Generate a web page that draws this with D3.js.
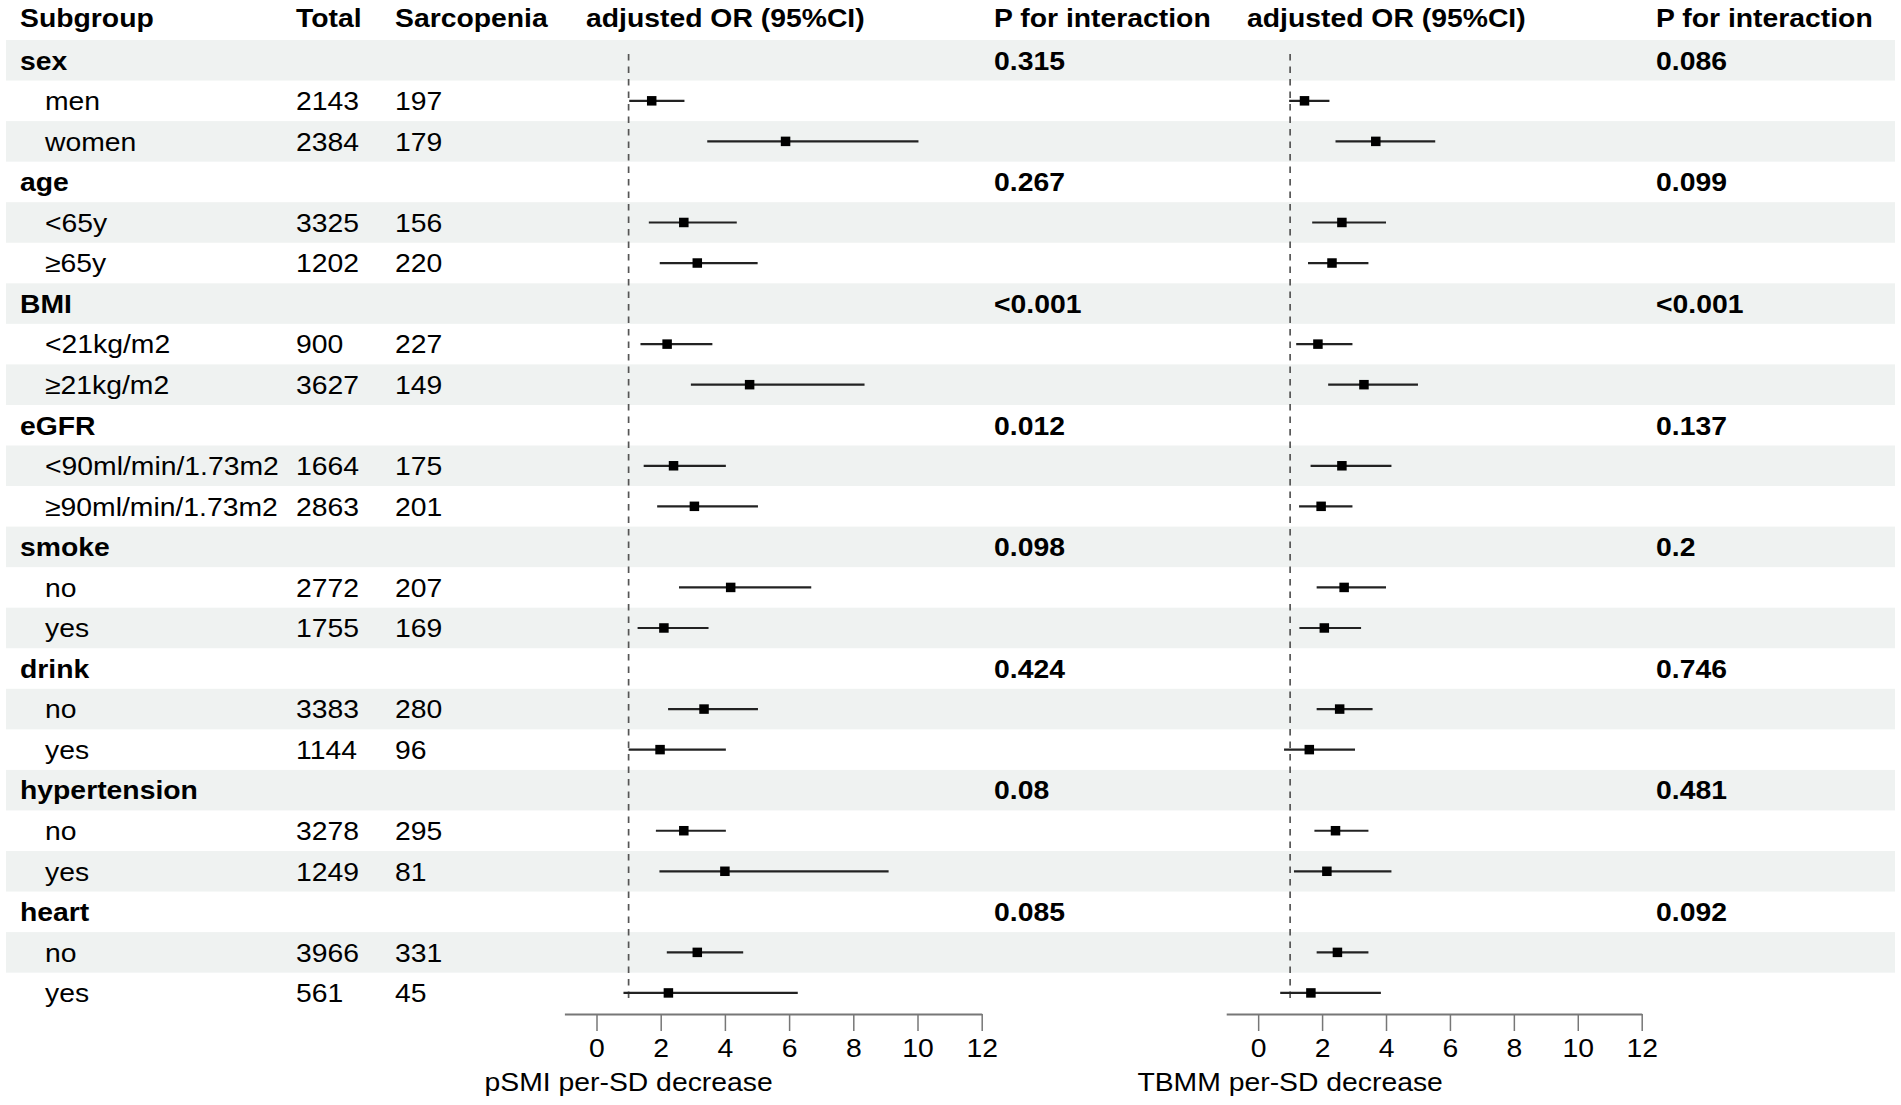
<!DOCTYPE html>
<html>
<head>
<meta charset="utf-8">
<script src="https://cdn.jsdelivr.net/npm/d3@7"></script>
<style>
  html, body { margin: 0; padding: 0; background: #fff; }
  svg { display: block; }
  text { font-family: "Liberation Sans", Arial, Helvetica, sans-serif; fill: #000; }
</style>
</head>
<body>
<svg id="chart" width="1901" height="1105"></svg>
<script>
// ---------------- DATA ----------------
const headers = ["Subgroup", "Total", "Sarcopenia", "adjusted OR (95%CI)", "P for interaction", "adjusted OR (95%CI)", "P for interaction"];

const labels = ["sex", "men", "women", "age", "<65y", "≥65y", "BMI", "<21kg/m2", "≥21kg/m2",
  "eGFR", "<90ml/min/1.73m2", "≥90ml/min/1.73m2", "smoke", "no", "yes", "drink", "no", "yes",
  "hypertension", "no", "yes", "heart", "no", "yes"];
const isGroup = [1,0,0,1,0,0,1,0,0,1,0,0,1,0,0,1,0,0,1,0,0,1,0,0];

const totals =      [null,2143,2384,null,3325,1202,null,900,3627,null,1664,2863,null,2772,1755,null,3383,1144,null,3278,1249,null,3966,561];
const sarcopenia =  [null,197,179,null,156,220,null,227,149,null,175,201,null,207,169,null,280,96,null,295,81,null,331,45];

const pInter1 = ["0.315","","","0.267","","","<0.001","","","0.012","","","0.098","","","0.424","","","0.08","","","0.085","",""];
const pInter2 = ["0.086","","","0.099","","","<0.001","","","0.137","","","0.2","","","0.746","","","0.481","","","0.092","",""];

// pSMI per-SD decrease
const est1 = [null,1.72,5.89,null,2.72,3.14,null,2.20,4.77,null,2.40,3.05,null,4.18,2.10,null,3.35,1.98,null,2.72,4.00,null,3.14,2.24];
const low1 = [null,1.02,3.45,null,1.63,1.97,null,1.37,2.94,null,1.47,1.89,null,2.57,1.28,null,2.23,1.00,null,1.85,1.96,null,2.19,0.84];
const up1  = [null,2.74,10.03,null,4.37,5.02,null,3.61,8.35,null,4.03,5.03,null,6.69,3.49,null,5.03,4.03,null,4.03,9.10,null,4.57,6.27];

// TBMM per-SD decrease
const est2 = [null,1.45,3.68,null,2.62,2.31,null,1.87,3.31,null,2.62,1.97,null,2.69,2.07,null,2.55,1.60,null,2.42,2.15,null,2.48,1.65];
const low2 = [null,0.97,2.42,null,1.69,1.56,null,1.19,2.19,null,1.64,1.28,null,1.83,1.29,null,1.83,0.81,null,1.76,1.12,null,1.83,0.69];
const up2  = [null,2.23,5.54,null,4.00,3.45,null,2.95,5.00,null,4.17,2.95,null,4.00,3.22,null,3.58,3.03,null,3.45,4.17,null,3.45,3.84];

const xDomain = [-1, 12];
const xTicks = [0, 2, 4, 6, 8, 10, 12];
const refValue = 1;
const xTitle1 = "pSMI per-SD decrease";
const xTitle2 = "TBMM per-SD decrease";

// ---------------- LAYOUT ----------------
const svg = d3.select("#chart");
const FS = 26, SX = 1.09;
const bodyTop = 40, rowH = 40.55;
const nRows = labels.length;
const y = d3.scaleBand().domain(d3.range(nRows)).range([bodyTop, bodyTop + rowH * nRows]).paddingInner(0).paddingOuter(0);
const yc = i => y(i) + y.bandwidth() / 2;

const col = { sub: 20, subIndent: 45, total: 296, sarc: 395, or1: 586, p1: 994, or2: 1247, p2: 1656 };
const x1 = d3.scaleLinear().domain(xDomain).range([564.4, 981.7]);
const x2 = d3.scaleLinear().domain(xDomain).range([1226.2, 1641.7]);

function txt(g, x, yy, s, bold, anchor) {
  return g.append("text")
    .attr("transform", `translate(${x},${yy}) scale(${SX},1)`)
    .attr("font-size", FS)
    .attr("font-weight", bold ? "bold" : "normal")
    .attr("text-anchor", anchor || "start")
    .text(s);
}

// bands
svg.append("g").selectAll("rect").data(d3.range(nRows).filter(i => i % 2 === 0)).join("rect")
  .attr("x", 6).attr("width", 1889)
  .attr("y", i => y(i)).attr("height", y.bandwidth())
  .attr("fill", "#eff2f1");

// header
const gh = svg.append("g");
const hx = [col.sub, col.total, col.sarc, col.or1, col.p1, col.or2, col.p2];
headers.forEach((h, k) => txt(gh, hx[k], 27, h, true));

// body text
const gt = svg.append("g");
labels.forEach((l, i) => {
  const by = yc(i) + 9.3;
  if (isGroup[i]) {
    txt(gt, col.sub, by, l, true);
  } else {
    txt(gt, col.subIndent, by, l, false);
    txt(gt, col.total, by, totals[i], false);
    txt(gt, col.sarc, by, sarcopenia[i], false);
  }
  if (pInter1[i]) txt(gt, col.p1, by, pInter1[i], true);
  if (pInter2[i]) txt(gt, col.p2, by, pInter2[i], true);
});

// forest panels
function panel(xs, est, low, up, title) {
  const g = svg.append("g");
  // reference line
  g.append("line")
    .attr("x1", xs(refValue)).attr("x2", xs(refValue))
    .attr("y1", y(0) + 14).attr("y2", y(nRows - 1) + y.bandwidth() - 10)
    .attr("stroke", "#555").attr("stroke-width", 1.7).attr("stroke-dasharray", "6.5,6");
  const idx = d3.range(nRows).filter(i => est[i] != null);
  g.selectAll("line.ci").data(idx).join("line").attr("class", "ci")
    .attr("x1", i => xs(low[i])).attr("x2", i => xs(up[i]))
    .attr("y1", i => yc(i)).attr("y2", i => yc(i))
    .attr("stroke", "#222").attr("stroke-width", 2.2);
  const s = 9.5;
  g.selectAll("rect.pt").data(idx).join("rect").attr("class", "pt")
    .attr("x", i => xs(est[i]) - s / 2).attr("y", i => yc(i) - s / 2)
    .attr("width", s).attr("height", s).attr("fill", "#000");
  // axis
  const axisY = bodyTop + rowH * nRows + 0.8;
  const ax = g.append("g").attr("transform", `translate(0,${axisY})`)
    .call(d3.axisBottom(xs).tickValues(xTicks).tickFormat(d3.format("d")).tickSize(17).tickSizeOuter(0).tickPadding(8));
  ax.select(".domain").attr("stroke", "#777").attr("stroke-width", 1.8);
  ax.selectAll(".tick line").attr("stroke", "#777").attr("stroke-width", 1.5);
  ax.selectAll(".tick text").attr("font-size", FS).attr("fill", "#000")
    .attr("font-family", "'Liberation Sans', Arial, sans-serif")
    .attr("transform", `scale(${SX},1)`);
  txt(g, xs(refValue), 1091, title, false, "middle");
}
panel(x1, est1, low1, up1, xTitle1);
panel(x2, est2, low2, up2, xTitle2);
</script>
</body>
</html>
